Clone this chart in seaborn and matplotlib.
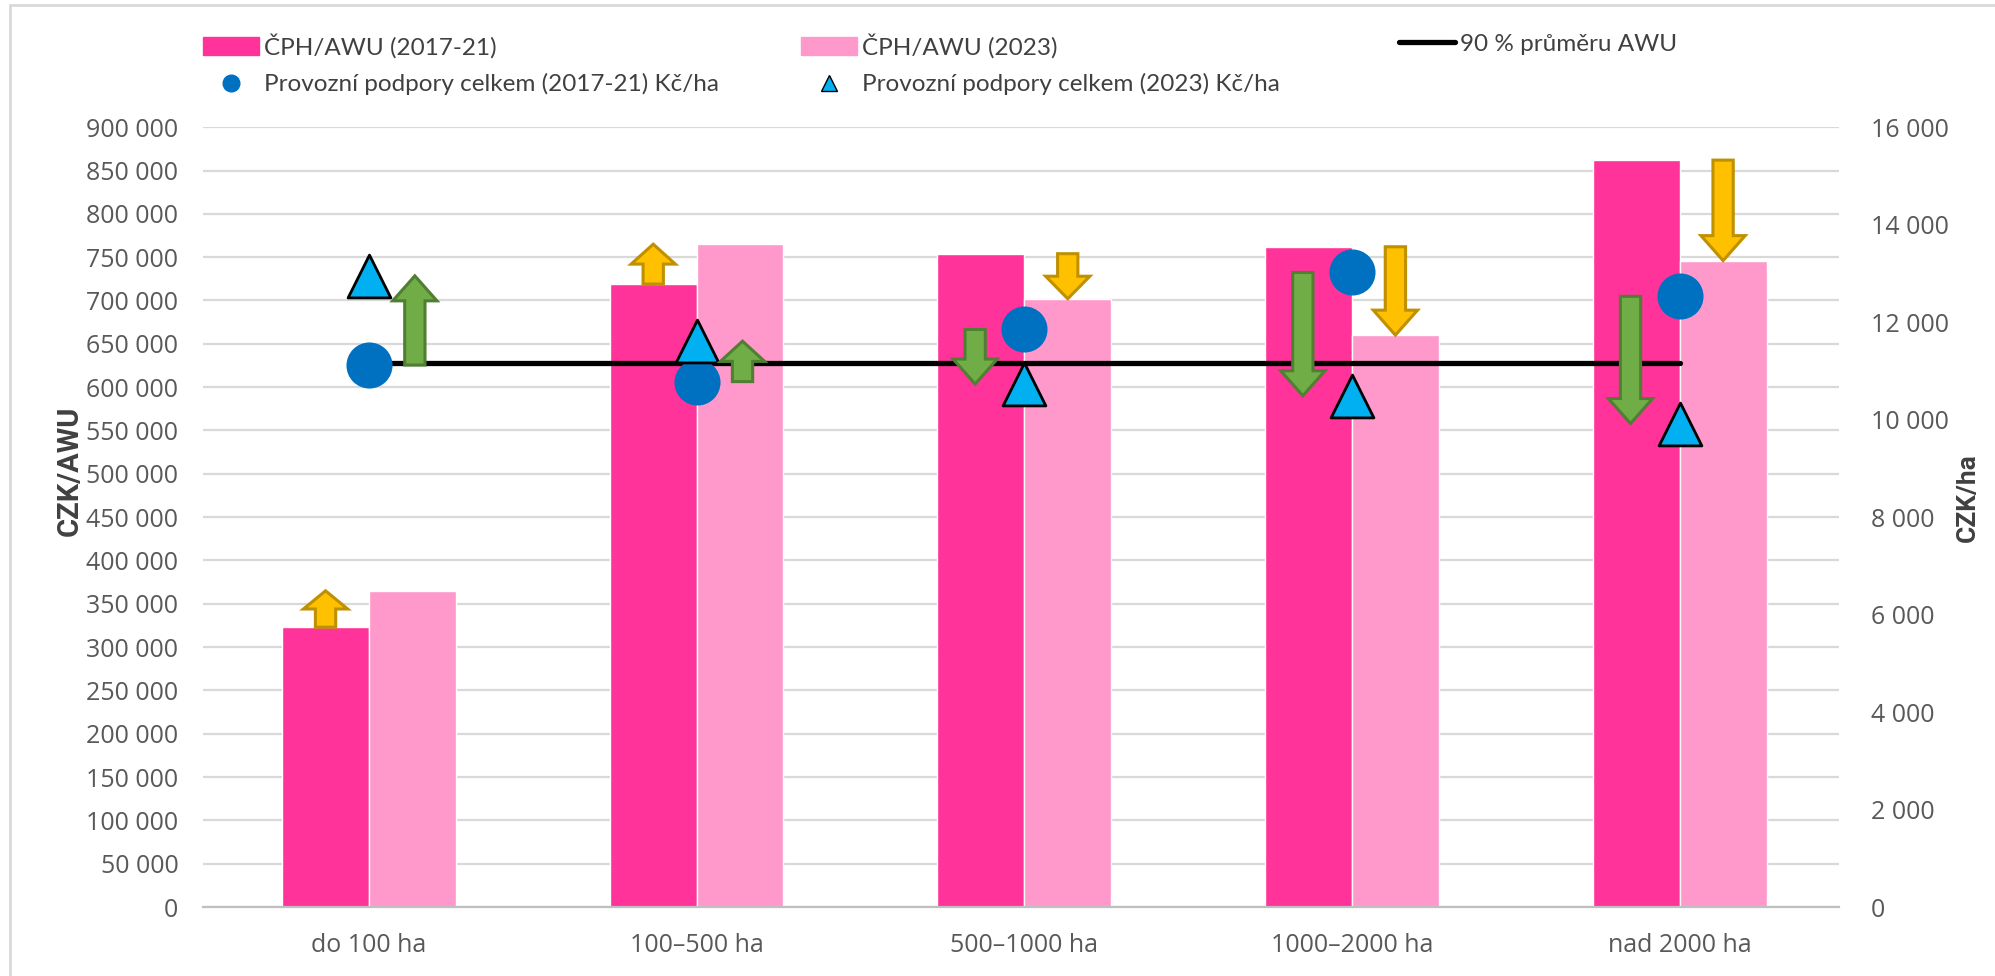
import numpy as np
import pandas as pd
import matplotlib
matplotlib.use("Agg")
import matplotlib.pyplot as plt
from matplotlib.patches import FancyArrow, Patch
from matplotlib.lines import Line2D
from matplotlib.ticker import FuncFormatter, MultipleLocator
import seaborn as sns

# data
kategorie = ["do 100 ha", "100–500 ha", "500–1000 ha", "1000–2000 ha", "nad 2000 ha"]
cph_2017_21 = [323000, 719000, 754000, 762000, 862000]
cph_2023 = [365000, 765000, 702000, 660000, 746000]
podpory_2017_21 = [11120, 10780, 11850, 13020, 12530]
podpory_2023 = [12950, 11610, 10730, 10490, 9920]
prumer_awu_90 = [628000, 628000, 628000, 628000, 628000]

obdobi = ["ČPH/AWU (2017-21)", "ČPH/AWU (2023)"]
c_dark = "#FF3399"
c_light = "#FF99CC"
c_circle = "#0070C0"
c_tri = "#00B0F0"
c_yellow, c_yellow_e = "#FFC000", "#BF9000"
c_green, c_green_e = "#70AD47", "#507E32"
txt = "#595959"

sns.set_theme(style="white")
plt.rcParams["font.family"] = ["Open Sans", "DejaVu Sans"]

df = pd.DataFrame({
    "kategorie": kategorie * 2,
    "obdobi": [obdobi[0]] * 5 + [obdobi[1]] * 5,
    "cph": cph_2017_21 + cph_2023,
})

fig = plt.figure(figsize=(19.95, 9.76), dpi=100)
ax = fig.add_axes([0.102, 0.0706, 0.8196, 0.7991])

sns.barplot(data=df, x="kategorie", y="cph", hue="obdobi", palette=[c_dark, c_light],
            width=0.53, gap=0, saturation=1, legend=False, ax=ax, zorder=2)
pos = np.arange(len(kategorie))
ax.plot(pos, prumer_awu_90, color="black", lw=3.8, zorder=3, solid_capstyle="round")

ax.set_xlim(-0.505, 4.485)
ax.set_ylim(0, 900000)
ax.yaxis.set_major_locator(MultipleLocator(50000))
fmt = FuncFormatter(lambda v, p: f"{v:,.0f}".replace(",", " "))
ax.yaxis.set_major_formatter(fmt)
ax.yaxis.grid(True, color="#D9D9D9", lw=1.6, zorder=0)
ax.set_axisbelow(True)
for s in ["top", "right", "left"]:
    ax.spines[s].set_visible(False)
ax.spines["bottom"].set_color("#BFBFBF")
ax.spines["bottom"].set_linewidth(1.6)
ax.tick_params(axis="y", length=0, pad=18, labelsize=18, labelcolor=txt)
ax.tick_params(axis="x", length=0, pad=19, labelsize=18, labelcolor=txt)
ax.set_xlabel("")
lab_font = ["Liberation Sans Narrow", "Roboto", "DejaVu Sans"]
ax.set_ylabel("CZK/AWU", fontsize=21, fontweight="bold", color="#404040", family=lab_font)
ax.yaxis.set_label_coords(-0.073, 0.56)

ax2 = ax.twinx()
ax2.set_ylim(0, 16000)
ax2.yaxis.set_major_locator(MultipleLocator(2000))
ax2.yaxis.set_major_formatter(fmt)
for s in ax2.spines.values():
    s.set_visible(False)
ax2.tick_params(axis="y", length=0, pad=23, labelsize=18, labelcolor=txt)
ax2.set_ylabel("CZK/ha", fontsize=19, fontweight="bold", color="#404040", family=lab_font)
ax2.yaxis.set_label_coords(1.072, 0.525)
ax2.grid(False)

ax2.scatter(pos, podpory_2017_21, s=1100, marker="o", color=c_circle, lw=0, zorder=5)
ax2.scatter(pos, podpory_2023, s=950, marker="^", color=c_tri, edgecolor="black", lw=2, zorder=5)


def block_arrow(axis, x, y0, y1, ymax, fc, ec):
    # head length ~25 px on the 780 px tall plot, shorter for small changes
    head = min(25 / 780 * ymax, 0.5 * abs(y1 - y0))
    axis.add_patch(FancyArrow(x, y0, 0, y1 - y0, width=0.062, head_width=0.135,
                              head_length=head, length_includes_head=True,
                              fc=fc, ec=ec, lw=2.2, zorder=6))


for i in range(len(kategorie)):
    up = cph_2023[i] > cph_2017_21[i]
    xo = -0.1325 if up else 0.1325
    block_arrow(ax, i + xo, cph_2017_21[i], cph_2023[i], 900000, c_yellow, c_yellow_e)
    up = podpory_2023[i] > podpory_2017_21[i]
    xo = 0.14 if up else -0.15
    block_arrow(ax2, i + xo, podpory_2017_21[i], podpory_2023[i], 16000, c_green, c_green_e)

leg_kw = dict(frameon=False, labelcolor="#404040", handlelength=2.3,
              handleheight=0.75, handletextpad=0.2, labelspacing=0.62,
              borderpad=0, borderaxespad=0, loc="upper left",
              prop={"family": ["Lato", "DejaVu Sans"], "size": 17.5})
h1 = [Patch(color=c_dark),
      Line2D([], [], marker="o", ls="", color=c_circle, markersize=12)]
l1 = [obdobi[0], "Provozní podpory celkem (2017-21) Kč/ha"]
h2 = [Patch(color=c_light),
      Line2D([], [], marker="^", ls="", color=c_tri, markeredgecolor="black", markersize=12)]
l2 = [obdobi[1], "Provozní podpory celkem (2023) Kč/ha"]
h3 = [Line2D([], [], color="black", lw=3.8)]
l3 = ["90 % průměru AWU"]
fig.legend(h1, l1, bbox_to_anchor=(0.102, 0.966), **leg_kw)
fig.legend(h2, l2, bbox_to_anchor=(0.4015, 0.966), **leg_kw)
fig.legend(h3, l3, bbox_to_anchor=(0.7015, 0.966), **leg_kw)

# faint slide frame
fig.add_artist(Line2D([0.005, 0.005], [0, 0.995], color="#D9D9D9", lw=2))
fig.add_artist(Line2D([0.005, 1], [0.995, 0.995], color="#D9D9D9", lw=2))

fig.savefig("out.png", dpi=100)
